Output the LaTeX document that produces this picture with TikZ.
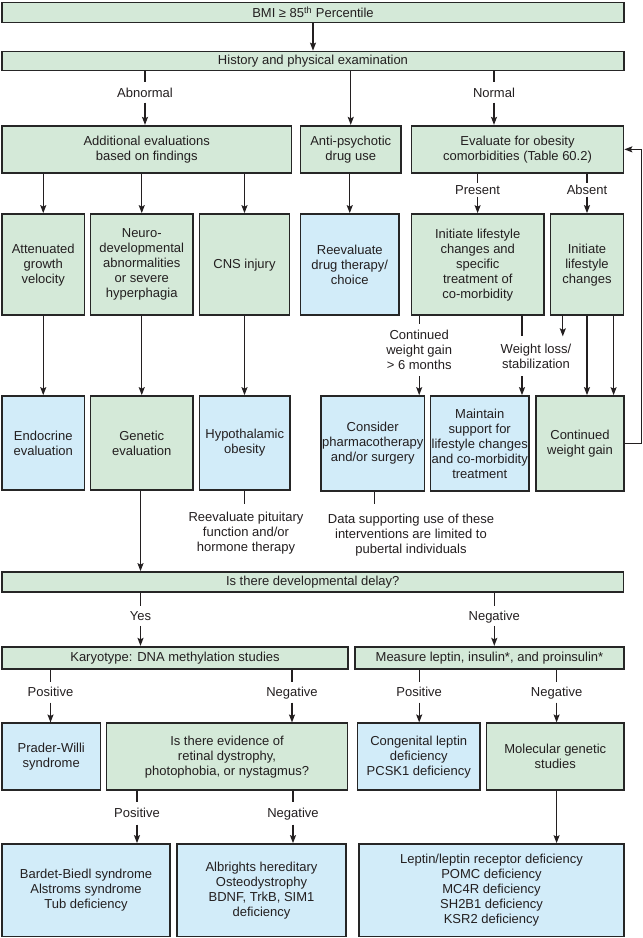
\documentclass[tikz,border=0pt]{standalone}
\usepackage{fontspec}
\setmainfont{Liberation Sans}
\usetikzlibrary{arrows.meta}
\definecolor{gfill}{HTML}{D4E9D8}
\definecolor{bfill}{HTML}{D2ECF9}
\definecolor{edge}{HTML}{262626}
\definecolor{ink}{HTML}{231F20}
\newcommand\bx[7]{\node[#6, minimum width={(#4)-(#2)}, minimum height={(#5)-(#3)}] (#1) at ({((#2)+(#4))/2},{((#3)+(#5))/2}) {#7};}
\begin{document}
\begin{tikzpicture}[x=1pt,y=-1pt,
  font=\fontsize{13}{15}\selectfont,
  box/.style={draw=edge, line width=1.7pt, align=center, inner sep=1pt, text=ink},
  gbox/.style={box, fill=gfill},
  bbox/.style={box, fill=bfill},
  ln/.style={draw=ink, line width=1.3pt},
  arr/.style={ln, -{Stealth[length=8pt,width=6pt,inset=1.5pt]}},
  lbl/.style={text=ink, inner xsep=1pt, inner ysep=5.5pt, text height=9pt, text depth=0pt},
  slbl/.style={lbl, inner ysep=2pt},
  mlbl/.style={text=ink, align=center, inner xsep=1pt, inner ysep=6pt},
  note/.style={text=ink, align=center, inner xsep=0pt, inner ysep=8pt}
]
\useasboundingbox (0,0) rectangle (643,938);
\fill[white] (0,0) rectangle (643,938);

% ---- boxes
\bx{bmi}{2}{2.5}{624}{22.5}{gbox}{BMI ≥ 85\textsuperscript{th} Percentile}
\bx{hist}{2}{51.5}{624}{70.5}{gbox}{History and physical examination}
\bx{addl}{2}{125.7}{291.5}{173}{gbox}{Additional evaluations\\based on findings}
\bx{anti}{300.5}{125.7}{401}{173}{gbox}{Anti-psychotic\\drug use}
\bx{evalc}{411.5}{125.7}{623.5}{173}{gbox}{Evaluate for obesity\\comorbidities (Table 60.2)}

\bx{att}{2}{214}{84.5}{315.3}{gbox}{Attenuated\\growth\\velocity}
\bx{neuro}{90.5}{214}{193}{315.3}{gbox}{Neuro-\\developmental\\abnormalities\\or severe\\hyperphagia}
\bx{cns}{199.5}{214}{289.5}{315.3}{gbox}{CNS injury}
\bx{reev}{300.5}{214}{399}{315.3}{bbox}{Reevaluate\\drug therapy/\\choice}
\bx{ilsp}{411.5}{214}{544}{315.3}{gbox}{Initiate lifestyle\\changes and\\specific\\treatment of\\co-morbidity}
\bx{ils}{550.5}{214}{623.5}{315.3}{gbox}{Initiate\\lifestyle\\changes}

\bx{endo}{2}{396}{84.5}{490}{bbox}{Endocrine\\evaluation}
\bx{gen}{90.5}{396}{193}{490}{gbox}{Genetic\\evaluation}
\bx{hypo}{199.5}{396}{290}{490}{bbox}{Hypothalamic\\obesity}
\bx{cons}{321}{396}{424.5}{491}{bbox}{Consider\\pharmacotherapy\\and/or surgery}
\bx{maint}{430.5}{396}{529}{491}{bbox}{Maintain\\support for\\lifestyle changes\\and co-morbidity\\treatment}
\bx{cwg}{536}{396}{624}{491}{gbox}{Continued\\weight gain}

\bx{dev}{2}{572}{623.5}{592.3}{gbox}{Is there developmental delay?}
\bx{kary}{2}{646.7}{348}{669}{gbox}{Karyotype: DNA methylation studies}
\bx{meas}{355}{646.7}{624}{669}{gbox}{Measure leptin, insulin*, and proinsulin*}

\bx{pw}{2}{723.3}{100.5}{790}{bbox}{Prader-Willi\\syndrome}
\bx{evid}{106.5}{723.3}{347.5}{790}{gbox}{Is there evidence of\\retinal dystrophy,\\photophobia, or nystagmus?}
\bx{cong}{357.5}{723.3}{480}{790}{bbox}{Congenital leptin\\deficiency\\PCSK1 deficiency}
\bx{molg}{486.5}{723.3}{624}{790}{gbox}{Molecular genetic\\studies}

\bx{bard}{2}{844}{170}{936.5}{bbox}{Bardet-Biedl syndrome\\Alstroms syndrome\\Tub deficiency}
\bx{albr}{177}{844}{346}{936.5}{bbox}{Albrights hereditary\\Osteodystrophy\\BDNF, TrkB, SIM1\\deficiency}
\bx{lept}{359}{844}{624}{936.5}{bbox}{Leptin/leptin receptor deficiency\\POMC deficiency\\MC4R deficiency\\SH2B1 deficiency\\KSR2 deficiency}

% ---- x positions of off-centre connectors
\coordinate (xW) at (522,0);
\coordinate (xS) at (562.8,0);
\coordinate (xG) at (613.6,0);
\coordinate (xY) at (140.5,0);
\coordinate (xD) at (374.5,0);

% ---- top
\draw[arr] (bmi.south) -- (hist.north -| bmi.south);

\node[lbl] (lAb) at (145,92.5) {Abnormal};
\draw[ln] (hist.south -| lAb) -- (lAb.north);
\draw[arr] (lAb.south) -- (addl.north -| lAb);

\draw[arr] (hist.south -| anti.north) -- (anti.north);

\node[lbl] (lNo) at (494,92.5) {Normal};
\draw[ln] (hist.south -| lNo) -- (lNo.north);
\draw[arr] (lNo.south) -- (evalc.north -| lNo);

% ---- row 2 -> row 3
\draw[arr] (addl.south -| att.north) -- (att.north);
\draw[arr] (addl.south -| neuro.north) -- (neuro.north);
\draw[arr] (addl.south -| cns.north) -- (cns.north);
\draw[arr] (anti.south -| reev.north) -- (reev.north);

\node[slbl] (lPr) at (477.6,190) {Present};
\draw[ln] (evalc.south -| lPr) -- (lPr.north);
\draw[arr] (lPr.south) -- (ilsp.north -| lPr);

\node[slbl] (lAs) at (587,190) {Absent};
\draw[ln] (evalc.south -| lAs) -- (lAs.north);
\draw[arr] (lAs.south) -- (ils.north -| lAs);

% ---- row 3 -> row 4
\draw[arr] (att.south) -- (endo.north);
\draw[arr] (neuro.south) -- (gen.north -| neuro.south);
\draw[arr] (cns.south) -- (hypo.north -| cns.south);

\node[mlbl] (lCw) at (419.2,350.2) {Continued\\weight gain\\> 6 months};
\draw[ln] (ilsp.south -| lCw) -- (lCw.north);
\draw[arr] (lCw.south) -- (cons.north -| lCw);

\node[mlbl, inner ysep=7.5pt] (lWl) at (536,356.3) {Weight loss/\\stabilization};
\draw[ln] (ilsp.south -| xW) -- (lWl.north -| xW);
\draw[arr] (lWl.south -| xW) -- (maint.north -| xW);
\draw[arr] (ils.south -| xS) -- (lWl.north -| xS);

\draw[arr] (ils.south) -- (cwg.north -| ils.south);
\draw[arr] (ils.south -| xG) -- (cwg.north -| xG);

\draw[arr] (cwg.east) -- ++(16.5,0) |- (evalc.east);

% ---- notes
\node[note, anchor=north] (hN) at (246,504) {Reevaluate pituitary\\function and/or\\hormone therapy};
\draw[ln] (hypo.south) -- (hypo.south |- hN.north);

\node[note, anchor=north, inner ysep=10pt] (dN) at (411,504) {Data supporting use of these\\interventions are limited to\\pubertal individuals};
\draw[ln] (cons.south -| xD) -- (dN.north -| xD);

% ---- developmental delay
\draw[arr] (gen.south -| xY) -- (dev.north -| xY);

\node[lbl] (lYes) at (140.5,615.7) {Yes};
\draw[ln] (dev.south -| lYes) -- (lYes.north);
\draw[arr] (lYes.south) -- (kary.north -| lYes);

\node[lbl] (lNg1) at (494.3,615.7) {Negative};
\draw[ln] (dev.south -| lNg1) -- (lNg1.north);
\draw[arr] (lNg1.south) -- (meas.north -| lNg1);

% ---- karyotype / measure
\node[lbl] (lPo2) at (50.5,692.3) {Positive};
\draw[ln] (kary.south -| lPo2) -- (lPo2.north);
\draw[arr] (lPo2.south) -- (pw.north -| lPo2);

\node[lbl] (lNg2) at (292,692.3) {Negative};
\draw[ln] (kary.south -| lNg2) -- (lNg2.north);
\draw[arr] (lNg2.south) -- (evid.north -| lNg2);

\node[lbl] (lPo3) at (419.2,692.3) {Positive};
\draw[ln] (meas.south -| lPo3) -- (lPo3.north);
\draw[arr] (lPo3.south) -- (cong.north -| lPo3);

\node[lbl] (lNg3) at (556.6,692.3) {Negative};
\draw[ln] (meas.south -| lNg3) -- (lNg3.north);
\draw[arr] (lNg3.south) -- (molg.north -| lNg3);

% ---- evidence / molecular
\node[lbl, inner ysep=6.5pt] (lPo4) at (137,813.3) {Positive};
\draw[ln] (evid.south -| lPo4) -- (lPo4.north);
\draw[arr] (lPo4.south) -- (bard.north -| lPo4);

\node[lbl, inner ysep=6.5pt] (lNg4) at (293,813.3) {Negative};
\draw[ln] (evid.south -| lNg4) -- (lNg4.north);
\draw[arr] (lNg4.south) -- (albr.north -| lNg4);

\draw[arr] (molg.south -| lNg3) -- (lept.north -| lNg3);
\end{tikzpicture}
\end{document}
